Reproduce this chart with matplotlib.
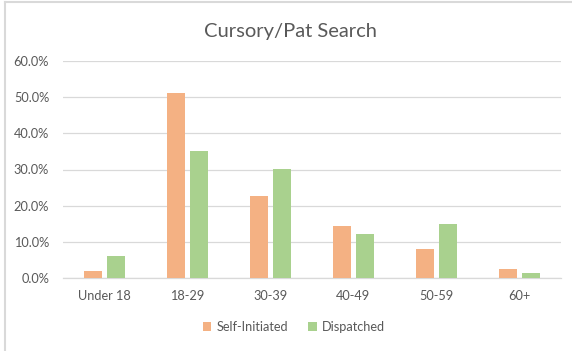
import matplotlib
matplotlib.use("Agg")
import matplotlib.pyplot as plt
import numpy as np
from matplotlib.ticker import PercentFormatter, MultipleLocator

categories = ["Under 18", "18-29", "30-39", "40-49", "50-59", "60+"]
self_initiated = [1.9, 51.1, 22.6, 14.3, 8.0, 2.4]
dispatched = [6.1, 35.1, 30.1, 12.2, 14.9, 1.4]
series_names = ["Self-Initiated", "Dispatched"]

plt.rcParams["font.family"] = ["Lato", "DejaVu Sans"]
TEXT = "#595959"
GRID = "#D9D9D9"
ORANGE = "#F4B183"
GREEN = "#A9D18E"

W, H = 572, 351
fig = plt.figure(figsize=(W / 100, H / 100), dpi=100)

# chart-area frame (top and left edges visible)
fig.add_artist(plt.Line2D([5 / W, 5 / W], [0, 1 - 2 / H], transform=fig.transFigure,
                          color="#D9D9D9", lw=1.5))
fig.add_artist(plt.Line2D([5 / W, 1], [1 - 2 / H, 1 - 2 / H], transform=fig.transFigure,
                          color="#D9D9D9", lw=1.5))

left, right, bottom, top = 63, 561, 278, 61
ax = fig.add_axes([left / W, 1 - bottom / H, (right - left) / W, (bottom - top) / H])

x = np.arange(len(categories))
bw = 0.223
off = 0.139
ax.bar(x - off, self_initiated, bw, color=ORANGE, label=series_names[0], zorder=3)
ax.bar(x + off, dispatched, bw, color=GREEN, label=series_names[1], zorder=3)

ax.set_xlim(-0.5, len(categories) - 0.5)
ax.set_ylim(0, 60)
ax.yaxis.set_major_locator(MultipleLocator(10))
ax.yaxis.set_major_formatter(PercentFormatter(decimals=1))
ax.grid(axis="y", color=GRID, lw=0.9, zorder=0)
for s in ["left", "right", "top"]:
    ax.spines[s].set_visible(False)
ax.spines["bottom"].set_color(GRID)
ax.spines["bottom"].set_linewidth(0.9)
ax.set_xticks(x)
ax.set_xticklabels(categories)
ax.tick_params(axis="both", length=0, colors=TEXT, labelsize=9.2)
ax.tick_params(axis="y", pad=10)
ax.tick_params(axis="x", pad=9)

fig.text(290 / W, 1 - 31 / H, "Cursory/Pat Search", ha="center", va="center",
         fontsize=14.5, color=TEXT)

leg = fig.legend(loc="center", bbox_to_anchor=(294 / W, 1 - 327 / H), ncol=2,
                 frameon=False, fontsize=9.2, handlelength=0.65, handleheight=0.65,
                 handletextpad=0.4, columnspacing=1.6, labelcolor=TEXT)

fig.savefig("out.png", dpi=100)
